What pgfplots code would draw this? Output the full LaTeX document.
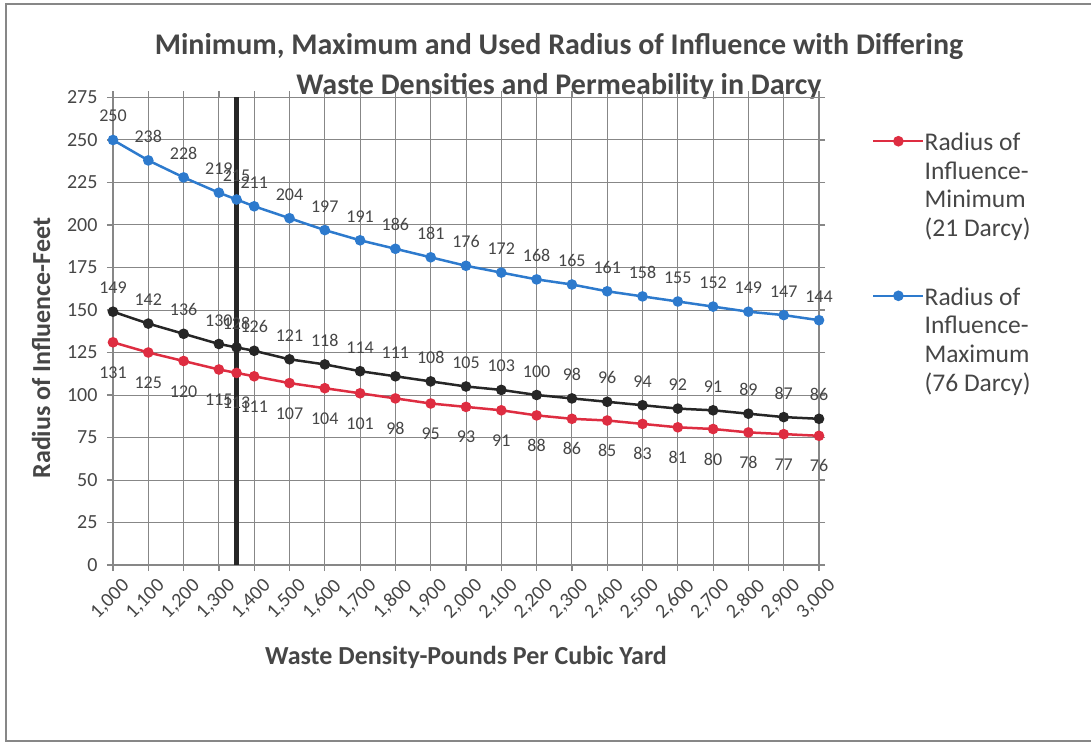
\documentclass[border=0pt]{standalone}
\usepackage{pgfplots}
\pgfplotsset{compat=1.18}
\usepackage{fontspec}
\setmainfont{Carlito}
\definecolor{serblue}{RGB}{45,122,205}
\definecolor{serred}{RGB}{222,45,65}
\definecolor{serblack}{RGB}{38,38,38}
\definecolor{gridgray}{RGB}{135,135,135}
\definecolor{txtgray}{RGB}{70,70,70}
\pgfplotstableread{
x minr maxr usedr
1000 131 250 149
1100 125 238 142
1200 120 228 136
1300 115 219 130
1350 113 215 128
1400 111 211 126
1500 107 204 121
1600 104 197 118
1700 101 191 114
1800 98 186 111
1900 95 181 108
2000 93 176 105
2100 91 172 103
2200 88 168 100
2300 86 165 98
2400 85 161 96
2500 83 158 94
2600 81 155 92
2700 80 152 91
2800 78 149 89
2900 77 147 87
3000 76 144 86
}\roidata
\begin{document}
\begin{tikzpicture}
\path[use as bounding box] (-113pt,-179pt) rectangle (978pt,565pt);
\draw[gridgray, line width=2pt] (978pt,561pt) -- (-107pt,561pt) -- (-107pt,-176pt) -- (978pt,-176pt);
\node[font=\fontsize{30}{40}\selectfont\bfseries, text=txtgray, align=center] at (446pt,499pt)
  {Minimum, Maximum and Used Radius of Influence with Differing\\Waste Densities and Permeability in Darcy};
\begin{axis}[
  at={(0pt,0pt)}, anchor=south west,
  scale only axis, width=706pt, height=467.5pt,
  xmin=1000, xmax=3000, ymin=0, ymax=275,
  xtick={1000,1100,...,3000}, ytick={0,25,...,275},
  grid=major,
  grid style={gridgray, line width=1pt},
  axis line style={gridgray, line width=1.2pt},
  tick style={gridgray, line width=1.2pt},
  tick align=outside, major tick length=6pt,
  /pgf/number format/1000 sep={,},
  /pgf/number format/assume math mode=true,
  ticklabel style={font=\fontsize{20}{22}\selectfont, text=txtgray},
  xticklabel style={rotate=45, anchor=north east, inner sep=1pt, yshift=-9pt, xshift=2pt},
  yticklabel style={xshift=-6pt},
  xlabel={Waste Density-Pounds Per Cubic Yard},
  ylabel={Radius of Influence-Feet},
  label style={font=\fontsize{26}{28}\selectfont\bfseries, text=txtgray},
  xlabel style={at={(axis description cs:0.5,-0.197)}, anchor=center},
  ylabel style={at={(axis description cs:-0.102,0.464)}, anchor=center},
  legend style={at={(1.075,0.93)}, anchor=north west, draw=none, fill=none,
    inner sep=0pt, row sep=133pt,
    font=\fontsize{25.5}{28.7}\selectfont, text=txtgray,
    nodes={inner sep=0pt}, cells={align=left}},
  legend image code/.code={\draw[mark repeat=2,mark phase=2,#1] plot coordinates {(0pt,0pt)(25pt,0pt)(50pt,0pt)};},
  legend cell align=left,
  nodes near coords,
  every node near coord/.append style={font=\fontsize{18}{20}\selectfont, text=txtgray, inner sep=0pt, anchor=base},
]
\addplot[serred, line width=2.5pt, mark=*, mark size=4pt, mark options={solid},
  every node near coord/.append style={yshift=-36pt}] table[x=x,y=minr] {\roidata};
\addlegendentry{\begin{tabular}[t]{@{}l@{}}Radius of\\Influence-\\Minimum\\(21 Darcy)\end{tabular}}
\addplot[serblue, line width=2.5pt, mark=*, mark size=4pt,
  every node near coord/.append style={yshift=18pt}] table[x=x,y=maxr] {\roidata};
\addlegendentry{\begin{tabular}[t]{@{}l@{}}Radius of\\Influence-\\Maximum\\(76 Darcy)\end{tabular}}
\addplot[serblack, line width=2.5pt, mark=*, mark size=4pt, forget plot,
  every node near coord/.append style={yshift=18pt}] table[x=x,y=usedr] {\roidata};
\addplot[black!85, line width=5pt, forget plot, nodes near coords={}] coordinates {(1350,0) (1350,275)};
\end{axis}
\end{tikzpicture}
\end{document}
